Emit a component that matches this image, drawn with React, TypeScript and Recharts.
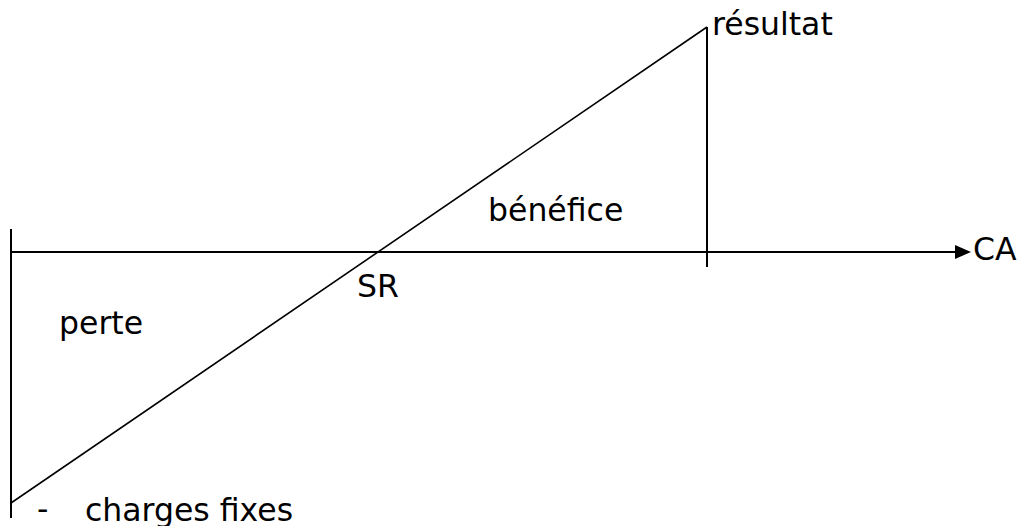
import { LineChart, Line, XAxis, YAxis, ReferenceLine, ReferenceDot } from 'recharts';

// chiffre d'affaires (CA) and résultat, in chart units
const chiffreAffaires = [0, 696];
const resultat = [-251, 225];
const axeCAFin = 944;

const labels = ['résultat', 'bénéfice', 'perte', 'SR', '-', 'charges fixes', 'CA'];

const data = chiffreAffaires.map((ca, i) => ({ ca, resultat: resultat[i] }));

// label anchors in chart units (x = CA, y = résultat)
const labelPos = [
  { x: 701, y: 217 },
  { x: 477, y: 31 },
  { x: 48, y: -82 },
  { x: 346, y: -45 },
  { x: 26, y: -268 },
  { x: 74, y: -269 },
  { x: 962, y: -8 },
];

const FONT = '"DejaVu Sans", sans-serif';

const textShape = (text: string) => (props: any) => (
  <text
    x={props.cx}
    y={props.cy}
    fontFamily={FONT}
    fontSize={31.5}
    fill="#000"
    textAnchor="start"
  >
    {text}
  </text>
);

const arrowShape = (props: any) => {
  const { cx, cy } = props;
  return (
    <polygon
      points={`${cx},${cy - 7} ${cx + 16},${cy} ${cx},${cy + 7}`}
      fill="#000"
    />
  );
};

export default function App() {
  const top = resultat[resultat.length - 1];
  const bottom = resultat[0];
  return (
    <div style={{ position: 'absolute', left: 0, top: 0, background: '#fff' }}>
      <LineChart
        width={1021}
        height={526}
        data={data}
        margin={{ top: 0, right: 0, bottom: 0, left: 0 }}
      >
        <XAxis dataKey="ca" type="number" domain={[-11, 1010]} hide />
        <YAxis type="number" domain={[-274, 252]} hide />
        <ReferenceLine
          segment={[{ x: 0, y: 0 }, { x: axeCAFin, y: 0 }]}
          stroke="#000"
          strokeWidth={2}
        />
        <ReferenceDot x={axeCAFin} y={0} r={0} shape={arrowShape} />
        <ReferenceLine
          segment={[{ x: 0, y: 23 }, { x: 0, y: bottom - 15 }]}
          stroke="#000"
          strokeWidth={2}
        />
        <ReferenceLine
          segment={[{ x: chiffreAffaires[1], y: top }, { x: chiffreAffaires[1], y: -15 }]}
          stroke="#000"
          strokeWidth={2}
        />
        <Line
          dataKey="resultat"
          stroke="#000"
          strokeWidth={1.6}
          dot={false}
          activeDot={false}
          isAnimationActive={false}
        />
        {labels.map((t, i) => (
          <ReferenceDot
            key={t}
            x={labelPos[i].x}
            y={labelPos[i].y}
            r={0}
            shape={textShape(t)}
          />
        ))}
      </LineChart>
    </div>
  );
}
